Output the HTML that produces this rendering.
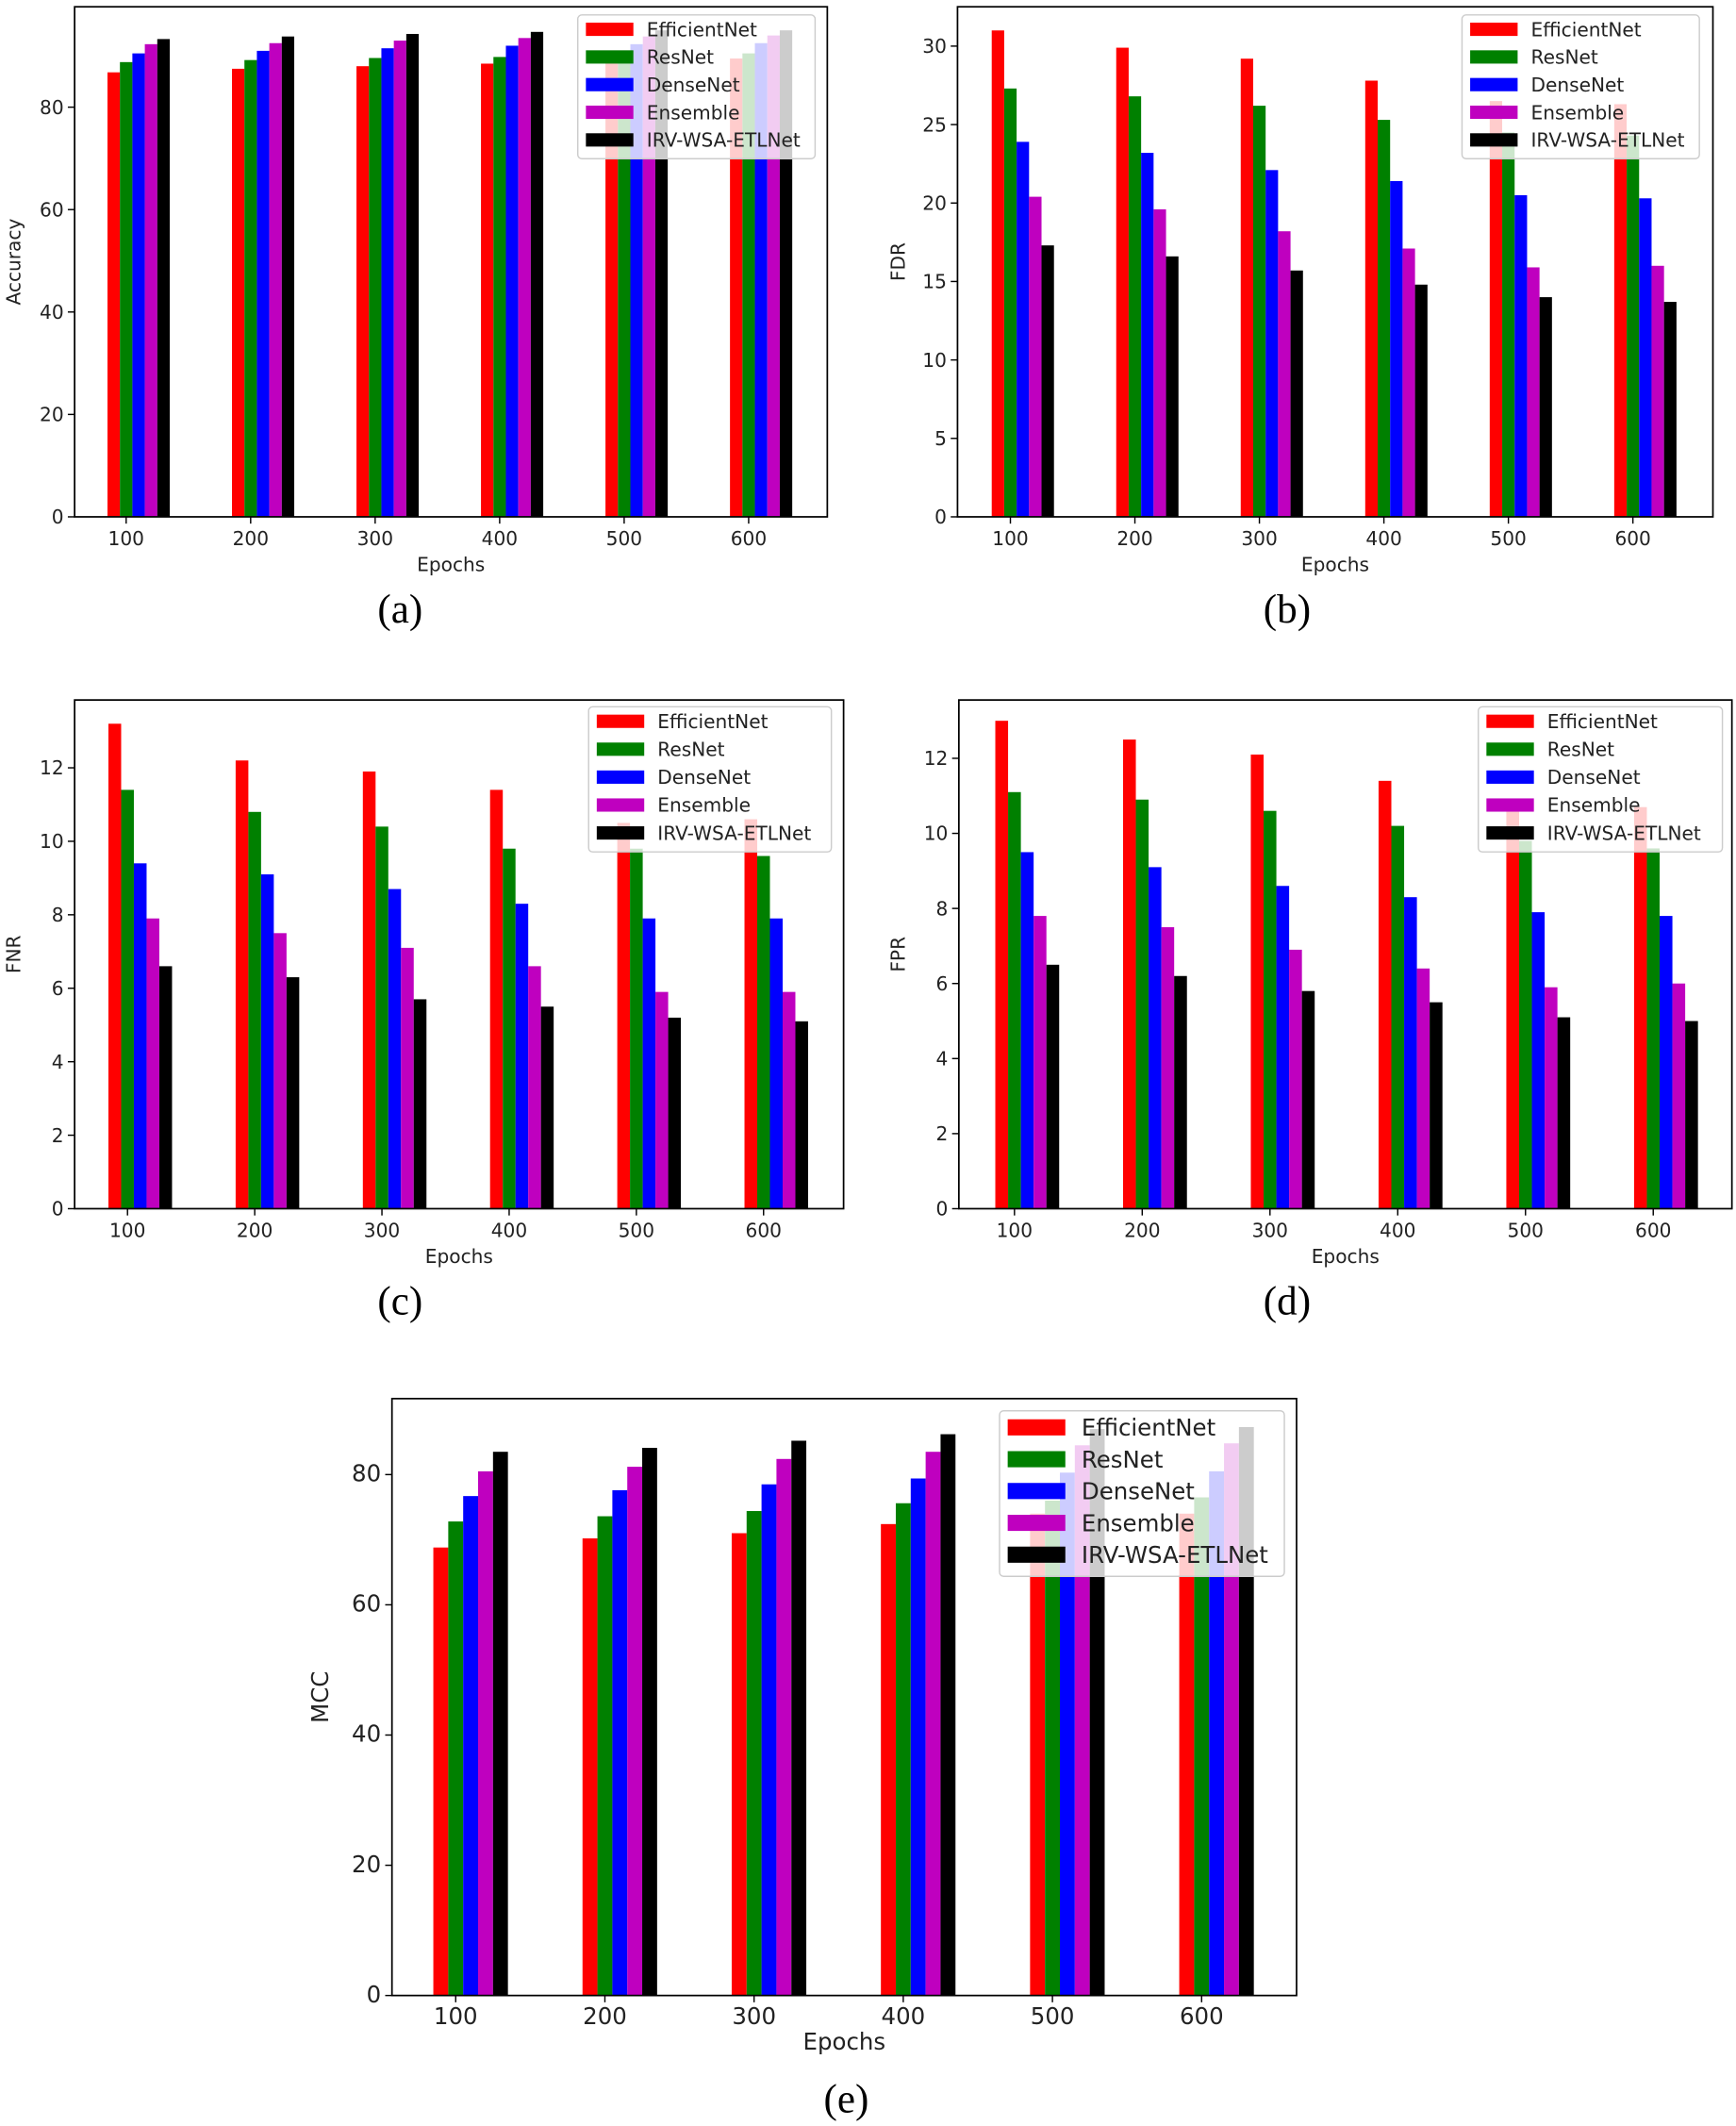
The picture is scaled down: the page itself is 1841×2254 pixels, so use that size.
<!DOCTYPE html>
<html><head><meta charset="utf-8"><style>
html,body{margin:0;padding:0;background:#fff;}
svg{display:block;}
</style></head><body>
<svg id="s" xmlns="http://www.w3.org/2000/svg" width="1841" height="2254" viewBox="0 0 1280 1567.2" font-family="'DejaVu Sans', sans-serif">
<rect width="1280" height="1568" fill="#fff"/>
<g font-family="'Liberation Serif', serif" font-size="30" text-anchor="middle" fill="#000">
<text x="295" y="459">(a)</text>
<text x="949" y="459">(b)</text>
<text x="295" y="969">(c)</text>
<text x="949" y="969">(d)</text>
<text x="624" y="1557">(e)</text>
</g>
</svg>
<script>
var NS="http://www.w3.org/2000/svg",S=document.getElementById('s');
function el(t,a,txt){var e=document.createElementNS(NS,t);for(var k in a)e.setAttribute(k,a[k]);if(txt!=null)e.textContent=txt;S.appendChild(e);return e;}
var cols=['#ff0000','#008000','#0000ff','#bf00bf','#000000'];
var names=['EfficientNet','ResNet','DenseNet','Ensemble','IRV-WSA-ETLNet'];
function panel(p){
 var sc=(p.y0-p.yref)/p.vref;
 function Y(v){return p.y0-v*sc;}
 for(var c=0;c<6;c++){var tx=p.t0+c*p.sp,w=p.sp*0.1;
  for(var i=0;i<5;i++){el('rect',{x:tx-1.5*w+i*w,y:Y(p.d[i][c]),width:w,height:p.y0-Y(p.d[i][c]),fill:cols[i]});}
  el('line',{x1:tx,x2:tx,y1:p.y0,y2:p.y0+5,stroke:'#000','stroke-width':1});
  el('text',{x:tx,y:p.y0+21,'font-size':p.fs,'text-anchor':'middle',fill:'#222'},String((c+1)*100));
 }
 p.ticks.forEach(function(v){var y=Y(v);el('line',{x1:p.x0-5,x2:p.x0,y1:y,y2:y,stroke:'#000'});
  el('text',{x:p.x0-8,y:y+5,'font-size':p.fs,'text-anchor':'end',fill:'#222'},String(v));});
 el('rect',{x:p.x0,y:p.top,width:p.x1-p.x0,height:p.y0-p.top,fill:'none',stroke:'#000','stroke-width':1.2});
 el('text',{x:(p.x0+p.x1)/2,y:p.y0+40,'font-size':p.fs,'text-anchor':'middle',fill:'#222'},'Epochs');
 el('text',{x:0,y:0,'font-size':p.fs,'text-anchor':'middle',fill:'#222',transform:'translate('+p.ylx+','+((p.top+p.y0)/2)+') rotate(-90)'},p.yl);
 var L=p.leg,h=L[3]-L[1];el('rect',{x:L[0],y:L[1],width:L[2]-L[0],height:h,rx:3,fill:'#fff','fill-opacity':0.8,stroke:'#ccc'});
 var step=h/5.2;
 for(var i=0;i<5;i++){var yy=L[1]+h*0.1+step*i;
  el('rect',{x:L[0]+6,y:yy-p.fs*0.35,width:p.fs*2.5,height:p.fs*0.7,fill:cols[i]});
  el('text',{x:L[0]+6+p.fs*3.2,y:yy+p.fs*0.36,'font-size':p.fs,fill:'#222'},names[i]);}
}
panel({x0:55,x1:610,top:5,y0:381,yref:79,vref:80,t0:93,sp:91.8,fs:14,ylx:15,yl:'Accuracy',ticks:[0,20,40,60,80],leg:[426,11,601,117],
 d:[[86.8,87.5,88,88.5,89.5,89.5],[88.8,89.2,89.6,89.8,90.2,90.5],[90.5,91,91.5,92,92.3,92.5],[92.3,92.5,93,93.5,93.8,94],[93.3,93.8,94.3,94.7,95,95]]});
panel({x0:706,x1:1263,top:5,y0:381,yref:34,vref:30,t0:745,sp:91.8,fs:14,ylx:667,yl:'FDR',ticks:[0,5,10,15,20,25,30],leg:[1078,11,1253,117],
 d:[[31,29.9,29.2,27.8,26.5,26.3],[27.3,26.8,26.2,25.3,24.5,24.3],[23.9,23.2,22.1,21.4,20.5,20.3],[20.4,19.6,18.2,17.1,15.9,16],[17.3,16.6,15.7,14.8,14,13.7]]});
panel({x0:55,x1:622,top:516,y0:891,yref:566,vref:12,t0:94,sp:93.8,fs:14,ylx:15,yl:'FNR',ticks:[0,2,4,6,8,10,12],leg:[434,521,613,628],
 d:[[13.2,12.2,11.9,11.4,10.5,10.6],[11.4,10.8,10.4,9.8,9.8,9.6],[9.4,9.1,8.7,8.3,7.9,7.9],[7.9,7.5,7.1,6.6,5.9,5.9],[6.6,6.3,5.7,5.5,5.2,5.1]]});
panel({x0:707,x1:1277,top:516,y0:891,yref:559,vref:12,t0:748,sp:94.2,fs:14,ylx:667,yl:'FPR',ticks:[0,2,4,6,8,10,12],leg:[1090,521,1270,628],
 d:[[13,12.5,12.1,11.4,10.6,10.7],[11.1,10.9,10.6,10.2,9.8,9.6],[9.5,9.1,8.6,8.3,7.9,7.8],[7.8,7.5,6.9,6.4,5.9,6],[6.5,6.2,5.8,5.5,5.1,5]]});
panel({x0:289,x1:956,top:1031,y0:1471,yref:1087,vref:80,t0:336,sp:110,fs:17,ylx:242,yl:'MCC',ticks:[0,20,40,60,80],leg:[737,1040,947,1162],
 d:[[68.8,70.2,71,72.4,74,74],[72.8,73.6,74.4,75.6,76,76.5],[76.7,77.6,78.5,79.4,80.3,80.5],[80.5,81.2,82.4,83.5,84.5,84.8],[83.5,84.1,85.2,86.2,87,87.3]]});
</script>
</body></html>
